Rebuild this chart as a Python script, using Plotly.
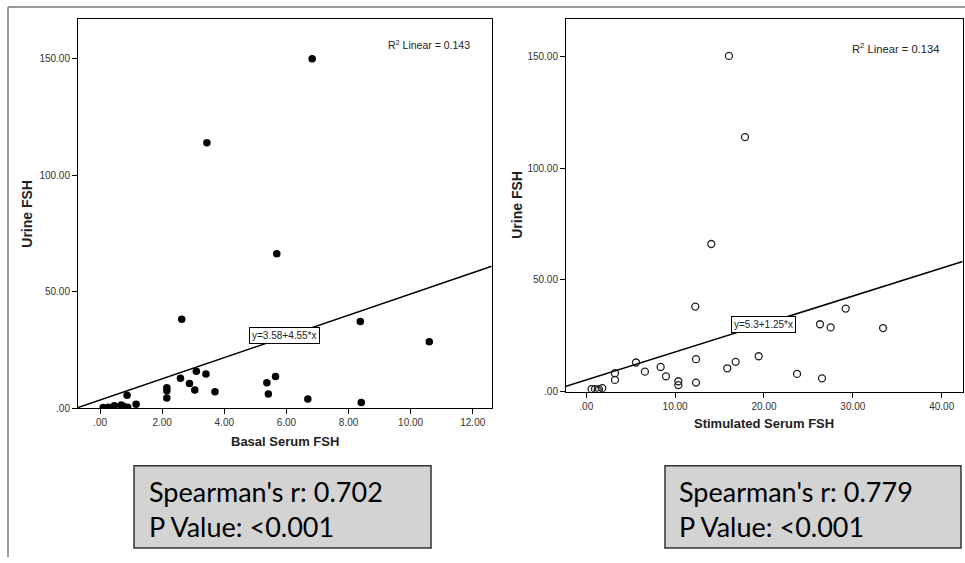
import plotly.graph_objects as go

# ---------------- data ----------------
basal_x = [6.83, 3.44, 5.69, 2.63, 8.38, 10.60, 3.10, 3.41, 2.59, 5.65, 5.37, 2.88, 2.15, 2.15,
           3.05, 3.70, 0.87, 5.42, 2.15, 6.69, 8.41, 1.16, 0.75, 0.68, 0.46, 0.27, 0.10, 0.89]
basal_y = [150.0, 114.0, 66.3, 38.2, 37.3, 28.6, 15.9, 14.7, 12.9, 13.6, 11.0, 10.6, 8.8, 7.5,
           7.9, 7.1, 5.6, 6.1, 4.4, 4.0, 2.5, 1.7, 0.9, 1.4, 1.1, 0.4, 0.3, 0.4]

stim_x = [16.06, 17.86, 14.07, 12.27, 29.19, 26.30, 27.50, 33.40, 19.40, 12.35, 16.81, 5.60, 15.87, 8.37,
          6.60, 8.97, 3.23, 3.23, 23.72, 26.53, 10.36, 10.36, 12.35, 0.60, 0.98, 1.43, 1.80, 1.28]
stim_y = [150.2, 113.9, 66.1, 38.1, 37.2, 30.2, 28.8, 28.5, 15.9, 14.6, 13.4, 13.1, 10.5, 11.1,
          9.0, 6.9, 8.3, 5.3, 8.0, 6.0, 4.7, 3.0, 4.1, 1.2, 1.2, 1.2, 1.6, 0.75]

fit_left = (3.58, 4.55)     # intercept, slope
fit_right = (5.3, 1.25)
r2_left = "0.143"
r2_right = "0.134"
spearman_left = "0.702"
spearman_right = "0.779"
p_text = "<0.001"

left_xticks = [0, 2, 4, 6, 8, 10, 12]
left_xtext = [".00", "2.00", "4.00", "6.00", "8.00", "10.00", "12.00"]
right_xticks = [0, 10, 20, 30, 40]
right_xtext = [".00", "10.00", "20.00", "30.00", "40.00"]
yticks = [0, 50, 100, 150]
ytext = [".00", "50.00", "100.00", "150.00"]

left_xrange = [-0.71, 12.61]
right_xrange = [-2.28, 42.36]
left_yrange = [0, 167.2]
right_yrange = [0, 166.8]

W, H = 965, 563
def px(x): return x / W
def py(y): return 1 - y / H

fig = go.Figure()

fig.add_trace(go.Scatter(x=basal_x, y=basal_y, mode="markers", xaxis="x", yaxis="y",
                         marker=dict(color="black", size=7.5, line=dict(width=0)),
                         showlegend=False, hoverinfo="skip"))
fig.add_trace(go.Scatter(x=left_xrange, y=[fit_left[0] + fit_left[1] * v for v in left_xrange],
                         mode="lines", xaxis="x", yaxis="y",
                         line=dict(color="black", width=1.5), showlegend=False, hoverinfo="skip"))

fig.add_trace(go.Scatter(x=stim_x, y=stim_y, mode="markers", xaxis="x2", yaxis="y2",
                         marker=dict(symbol="circle-open", color="#222", size=7,
                                     line=dict(width=1.3, color="#222")),
                         showlegend=False, hoverinfo="skip"))
fig.add_trace(go.Scatter(x=right_xrange, y=[fit_right[0] + fit_right[1] * v for v in right_xrange],
                         mode="lines", xaxis="x2", yaxis="y2",
                         line=dict(color="black", width=1.5), showlegend=False, hoverinfo="skip"))

tickfont = dict(family="Liberation Sans, Arial", size=10, color="#333")
axis_common = dict(showline=True, linecolor="black", linewidth=1, mirror=True,
                   ticks="outside", ticklen=5, tickcolor="black", tickwidth=1,
                   showgrid=False, zeroline=False, tickfont=tickfont, tickmode="array")

fig.update_layout(
    width=W, height=H, autosize=False,
    margin=dict(l=0, r=0, t=0, b=0),
    paper_bgcolor="white", plot_bgcolor="white",
    xaxis=dict(domain=[px(78), px(491.7)], range=left_xrange, anchor="y",
               tickvals=left_xticks, ticktext=left_xtext, **axis_common),
    yaxis=dict(domain=[py(412.7), py(19)], range=left_yrange, anchor="x",
               tickvals=yticks, ticktext=ytext, **axis_common),
    xaxis2=dict(domain=[px(566), px(962.7)], range=right_xrange, anchor="y2",
                tickvals=right_xticks, ticktext=right_xtext, **axis_common),
    yaxis2=dict(domain=[py(396), py(19)], range=right_yrange, anchor="x2",
                tickvals=yticks, ticktext=ytext, **axis_common),
)

xt_font = dict(family="Liberation Sans, Arial", size=13, color="#222")
yt_font = dict(family="Liberation Sans, Arial", size=14, color="#222")
ann = []
ann.append(dict(xref="paper", yref="paper", x=px(285), y=py(446.5), text="<b>Basal Serum FSH</b>",
                showarrow=False, font=xt_font, xanchor="center", yanchor="middle"))
ann.append(dict(xref="paper", yref="paper", x=px(764), y=py(428), text="<b>Stimulated Serum FSH</b>",
                showarrow=False, font=xt_font, xanchor="center", yanchor="middle"))
ann.append(dict(xref="paper", yref="paper", x=px(27), y=py(216), text="<b>Urine FSH</b>", textangle=-90,
                showarrow=False, font=yt_font, xanchor="center", yanchor="middle"))
ann.append(dict(xref="paper", yref="paper", x=px(517), y=py(207), text="<b>Urine FSH</b>", textangle=-90,
                showarrow=False, font=yt_font, xanchor="center", yanchor="middle"))

ann.append(dict(xref="paper", yref="paper", x=px(472), y=py(45), text="R<sup>2</sup> Linear = " + r2_left,
                showarrow=False, font=dict(family="Liberation Sans, Arial", size=10.5, color="#222"),
                xanchor="right", yanchor="middle"))
ann.append(dict(xref="paper", yref="paper", x=px(941), y=py(48.5), text="R<sup>2</sup> Linear = " + r2_right,
                showarrow=False, font=dict(family="Liberation Sans, Arial", size=11.2, color="#222"),
                xanchor="right", yanchor="middle"))

eqfont = dict(family="Liberation Sans, Arial", size=10, color="#222")
ann.append(dict(xref="x", yref="y", x=5.95, y=31.1,
                text="y=%s+%s*x" % (fit_left[0], fit_left[1]),
                showarrow=False, font=eqfont, bgcolor="white", bordercolor="black",
                borderwidth=1, borderpad=2, xanchor="center", yanchor="middle"))
ann.append(dict(xref="x2", yref="y2", x=19.97, y=30.1,
                text="y=%s+%s*x" % (fit_right[0], fit_right[1]),
                showarrow=False, font=eqfont, bgcolor="white", bordercolor="black",
                borderwidth=1, borderpad=2, xanchor="center", yanchor="middle"))

boxfont = dict(family="Lato, Open Sans", size=27, color="black")
for x0, val in [(147, spearman_left), (677, spearman_right)]:
    ann.append(dict(xref="paper", yref="paper", x=px(x0), y=py(497), text="Spearman's r: " + val,
                    showarrow=False, font=boxfont, xanchor="left", yanchor="middle"))
    ann.append(dict(xref="paper", yref="paper", x=px(x0), y=py(532), text="P Value: " + p_text,
                    showarrow=False, font=boxfont, xanchor="left", yanchor="middle"))

shapes = []
for x0, x1 in [(134, 431), (665, 961)]:
    shapes.append(dict(type="rect", xref="paper", yref="paper", x0=px(x0), x1=px(x1),
                       y0=py(554), y1=py(470.7), fillcolor="#d3d3d3",
                       line=dict(color="#333", width=1.5), layer="below"))
# outer frame
shapes.append(dict(type="line", xref="paper", yref="paper", x0=px(8), x1=px(8), y0=0, y1=py(7),
                   line=dict(color="#777", width=1.5)))
shapes.append(dict(type="line", xref="paper", yref="paper", x0=px(8), x1=1, y0=py(7), y1=py(7),
                   line=dict(color="#777", width=1.5)))

fig.update_layout(annotations=ann, shapes=shapes)
fig.write_html("out.html", config={"displayModeBar": False, "staticPlot": True},
               post_script="document.body.style.margin='0px';document.body.style.overflow='hidden';")
